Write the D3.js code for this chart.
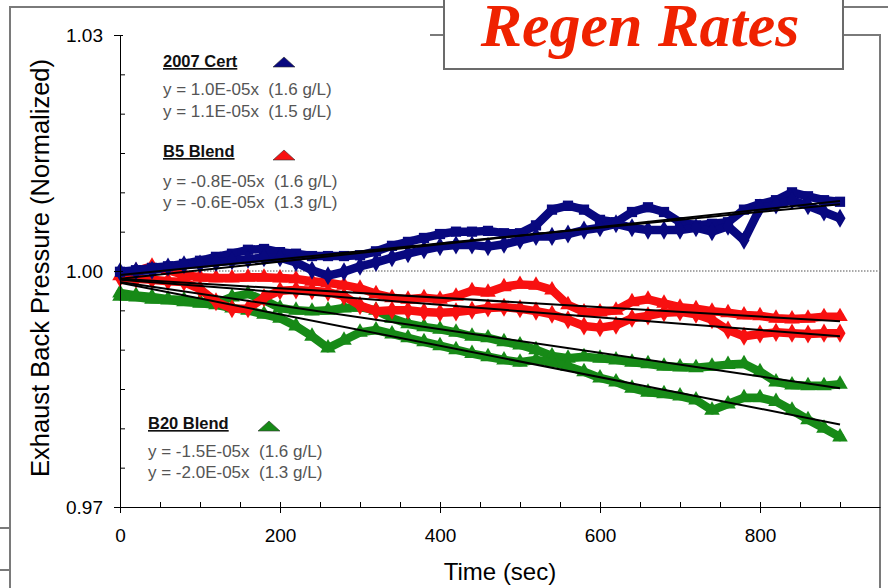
<!DOCTYPE html>
<html><head><meta charset="utf-8">
<script src="https://cdn.jsdelivr.net/npm/d3@7"></script>
<style>body{margin:0;background:#fff}svg{display:block}</style>
</head><body><svg id="c" width="888" height="588"></svg>
<script>
// ---- data ----
const time = [0,20,40,60,80,100,120,140,160,180,200,220,240,260,280,300,320,340,360,380,400,420,440,460,480,500,520,540,560,580,600,620,640,660,680,700,720,740,760,780,800,820,840,860,880,900];
const cert16 = [0.9999,1.0001,1.0004,1.0006,1.0009,1.0013,1.0018,1.0022,1.0027,1.0028,1.0024,1.0022,1.0019,1.0019,1.0019,1.0020,1.0025,1.0032,1.0037,1.0042,1.0047,1.0050,1.0050,1.0051,1.0048,1.0048,1.0058,1.0078,1.0083,1.0078,1.0065,1.0062,1.0075,1.0081,1.0075,1.0062,1.0058,1.0060,1.0062,1.0078,1.0085,1.0090,1.0100,1.0095,1.0090,1.0088];
const cert15 = [0.9999,1.0000,1.0001,1.0005,1.0008,1.0009,1.0011,1.0013,1.0015,1.0017,1.0017,1.0011,1.0001,0.9994,0.9999,1.0006,1.0011,1.0017,1.0022,1.0027,1.0031,1.0033,1.0033,1.0031,1.0034,1.0039,1.0044,1.0044,1.0047,1.0052,1.0055,1.0060,1.0055,1.0052,1.0052,1.0052,1.0055,1.0050,1.0057,1.0039,1.0080,1.0084,1.0090,1.0083,1.0075,1.0067];
const b5_13 = [0.9994,1.0000,1.0006,1.0001,0.9995,0.9992,0.9991,0.9991,0.9992,0.9992,0.9991,0.9990,0.9987,0.9985,0.9982,0.9978,0.9971,0.9966,0.9964,0.9966,0.9964,0.9968,0.9975,0.9973,0.9980,0.9983,0.9982,0.9976,0.9957,0.9948,0.9948,0.9950,0.9961,0.9964,0.9959,0.9954,0.9952,0.9949,0.9947,0.9944,0.9943,0.9940,0.9939,0.9940,0.9942,0.9942];
const b5_16 = [0.9991,0.9990,0.9989,0.9987,0.9986,0.9977,0.9961,0.9952,0.9952,0.9966,0.9975,0.9976,0.9975,0.9973,0.9968,0.9956,0.9949,0.9950,0.9950,0.9948,0.9947,0.9948,0.9950,0.9953,0.9954,0.9952,0.9949,0.9945,0.9938,0.9930,0.9928,0.9931,0.9940,0.9943,0.9947,0.9948,0.9945,0.9938,0.9925,0.9917,0.9920,0.9922,0.9921,0.9920,0.9921,0.9921];
const b20_16 = [0.9972,0.9969,0.9967,0.9964,0.9963,0.9961,0.9959,0.9967,0.9971,0.9963,0.9953,0.9950,0.9949,0.9950,0.9953,0.9954,0.9950,0.9940,0.9933,0.9929,0.9926,0.9922,0.9917,0.9915,0.9910,0.9906,0.9900,0.9892,0.9889,0.9891,0.9889,0.9887,0.9884,0.9882,0.9879,0.9878,0.9877,0.9879,0.9881,0.9882,0.9872,0.9859,0.9855,0.9854,0.9854,0.9856];
const b20_13 = [0.9968,0.9967,0.9964,0.9963,0.9961,0.9959,0.9957,0.9953,0.9950,0.9945,0.9940,0.9930,0.9917,0.9902,0.9912,0.9922,0.9925,0.9920,0.9915,0.9910,0.9905,0.9900,0.9895,0.9891,0.9887,0.9884,0.9887,0.9884,0.9879,0.9872,0.9864,0.9859,0.9851,0.9846,0.9844,0.9841,0.9836,0.9823,0.9831,0.9839,0.9839,0.9834,0.9823,0.9811,0.9800,0.9789];

// linear fits (slope, intercept) for each series
const fitSlopes     = [1.0e-5, 1.1e-5, -0.8e-5, -0.6e-5, -1.5e-5, -2.0e-5];
const fitIntercepts = [0.9995, 0.9990, 0.9989, 0.9990, 0.9986, 0.9985];
const fitEnd = 900;

const groupNames = ["2007 Cert", "B5 Blend", "B20 Blend"];
const eqLabels = [
  ["y = 1.0E-05x  (1.6 g/L)", "y = 1.1E-05x  (1.5 g/L)"],
  ["y = -0.8E-05x  (1.6 g/L)", "y = -0.6E-05x  (1.3 g/L)"],
  ["y = -1.5E-05x  (1.6 g/L)", "y = -2.0E-05x  (1.3 g/L)"]
];
const xTicks = [0,200,400,600,800];
const xMinor = [50,100,150,250,300,350,450,500,550,650,700,750,850,900];
const yTicks = [0.97,1.00,1.03];
const yMinor = [0.975,0.98,0.985,0.99,0.995,1.005,1.01,1.015,1.02,1.025];
const titleText = "Regen Rates";
const xTitle = "Time (sec)";
const yTitle = "Exhaust Back Pressure (Normalized)";

// ---- drawing ----
const NAVY = "#08087f", RED = "#f81010", GREEN = "#178a17";
const svg = d3.select("#c");
const FONT = "'Liberation Sans', Arial, sans-serif";

svg.append("rect").attr("width",888).attr("height",588).attr("fill","#fff");

// slide frame lines
const frame = svg.append("g").attr("stroke","#7a7a7a").attr("stroke-width",2).attr("fill","none");
frame.append("path").attr("d","M10,588V7H888");
frame.append("path").attr("d","M430,35H880V588");
frame.append("path").attr("d","M0,528H10M0,570H10");

const x = d3.scaleLinear().domain([0,950]).range([120,880]);
const y = d3.scaleLinear().domain([0.97,1.03]).range([507,35]);

// dotted reference line
svg.append("line").attr("x1",x(0)).attr("x2",x(950)).attr("y1",y(1)).attr("y2",y(1))
  .attr("stroke","#8c8c8c").attr("stroke-width",1.5).attr("stroke-dasharray","1.5,1.5");

// series
const series = [
  {v:b20_16, c:GREEN, sym:d3.symbolTriangle},
  {v:b20_13, c:GREEN, sym:d3.symbolTriangle},
  {v:b5_16, c:RED, sym:d3.symbolDiamond},
  {v:b5_13, c:RED, sym:d3.symbolTriangle},
  {v:cert16, c:NAVY, sym:d3.symbolSquare},
  {v:cert15, c:NAVY, sym:d3.symbolDiamond}
];
const line = d3.line().x((d,i)=>x(time[i])).y(d=>y(d));
series.forEach(s=>{
  svg.append("path").attr("d",line(s.v)).attr("fill","none").attr("stroke",s.c)
    .attr("stroke-width",8.5).attr("stroke-linejoin","round").attr("stroke-linecap","round");
  svg.append("g").selectAll("path").data(s.v).join("path")
    .attr("transform",(d,i)=>`translate(${x(time[i])},${y(d)})`)
    .attr("d",d3.symbol(s.sym,105)).attr("fill",s.c);
});

// fit lines
fitSlopes.forEach((m,i)=>{
  const b = fitIntercepts[i];
  svg.append("line").attr("x1",x(0)).attr("y1",y(b)).attr("x2",x(fitEnd)).attr("y2",y(b+m*fitEnd))
    .attr("stroke","#000").attr("stroke-width",2);
});

// axes
const gx = svg.append("g").attr("transform",`translate(0,${y(0.97)})`)
  .call(d3.axisBottom(x).tickValues(xTicks).tickSize(6).tickSizeOuter(0).tickPadding(15.5));
gx.selectAll("text").attr("font-family",FONT).attr("font-size",19).attr("fill","#000");
gx.selectAll(".tick line").attr("y1",-5);
svg.append("g").attr("transform",`translate(0,${y(0.97)})`)
  .call(d3.axisTop(x).tickValues(xMinor).tickSize(5).tickFormat(""))
  .call(g=>g.select(".domain").remove());

const gy = svg.append("g").attr("transform",`translate(${x(0)},0)`)
  .call(d3.axisLeft(y).tickValues(yTicks).tickSize(6).tickSizeOuter(0).tickPadding(11).tickFormat(d3.format(".2f")));
gy.selectAll("text").attr("font-family",FONT).attr("font-size",19).attr("fill","#000");
gy.selectAll(".tick line").attr("x1",3);
svg.append("g").attr("transform",`translate(${x(0)},0)`)
  .call(d3.axisRight(y).tickValues(yMinor).tickSize(5).tickFormat(""))
  .call(g=>g.select(".domain").remove());
svg.selectAll(".domain, .tick line").attr("stroke","#000");

// axis titles
svg.append("text").attr("x",500).attr("y",580).attr("text-anchor","middle")
  .attr("font-family",FONT).attr("font-size",24).text(xTitle);
svg.append("text").attr("transform","translate(49,268) rotate(-90)").attr("text-anchor","middle")
  .attr("font-family",FONT).attr("font-size",25.5).text(yTitle);

// legend annotations
const legPos = [
  {x:163, yh:67, ye:[95,117], tx:284, ty:62, c:NAVY},
  {x:163, yh:157, ye:[187,208], tx:284, ty:155, c:RED},
  {x:148, yh:429, ye:[457,478], tx:269, ty:426, c:GREEN}
];
legPos.forEach((p,i)=>{
  svg.append("text").attr("x",p.x).attr("y",p.yh).attr("font-family",FONT).attr("font-size",16.5)
    .attr("font-weight","bold").attr("text-decoration","underline").attr("fill","#111").text(groupNames[i]);
  eqLabels[i].forEach((t,j)=>{
    svg.append("text").attr("x",p.x).attr("y",p.ye[j]).attr("font-family",FONT).attr("font-size",17)
      .attr("fill","#555").attr("xml:space","preserve").style("white-space","pre").text(t);
  });
  svg.append("path").attr("transform",`translate(${p.tx},${p.ty})`).attr("d","M-11,5L11,5L0,-5Z")
    .attr("fill",p.c).attr("stroke","#333").attr("stroke-width",0.6);
});

// title box
svg.append("rect").attr("x",444).attr("y",-10).attr("width",399).attr("height",79)
  .attr("fill","#fff").attr("stroke","#6b6b6b").attr("stroke-width",2);
svg.append("text").attr("x",640).attr("y",46).attr("text-anchor","middle")
  .attr("font-family","'Liberation Serif','Times New Roman',serif").attr("font-size",62)
  .attr("font-weight","bold").attr("font-style","italic").attr("fill","#ef2200").text(titleText);
</script></body></html>
